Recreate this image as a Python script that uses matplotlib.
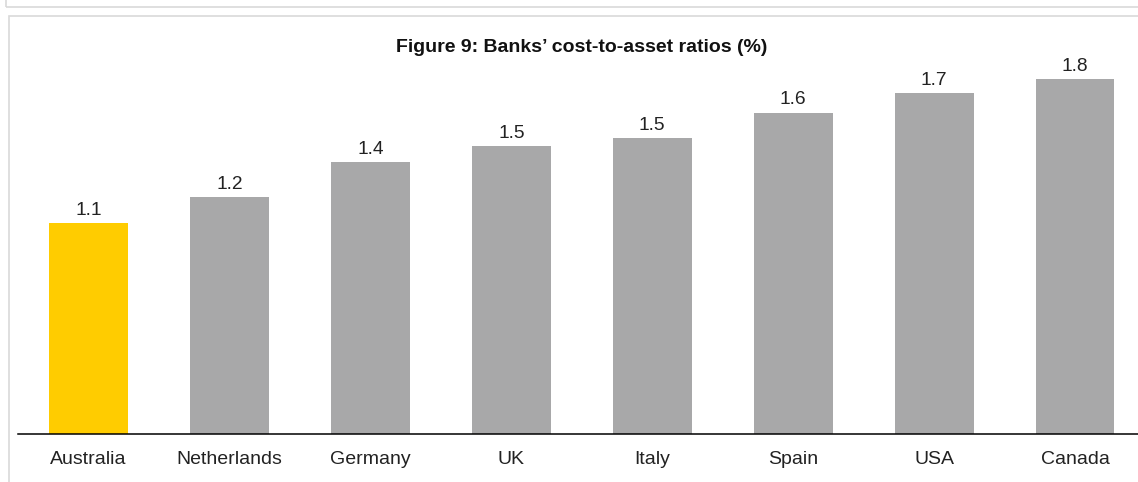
import matplotlib
matplotlib.use("Agg")
import matplotlib.pyplot as plt
from matplotlib.patches import Rectangle

# Banks' cost-to-asset ratios, per cent
countries = ["Australia", "Netherlands", "Germany", "UK", "Italy", "Spain", "USA", "Canada"]
ratios = [1.07, 1.20, 1.38, 1.46, 1.50, 1.63, 1.73, 1.80]
highlight = "Australia"

plt.rcParams.update({"font.family": ["Liberation Sans", "DejaVu Sans"], "font.size": 12})

W, H = 1138, 482
fig = plt.figure(figsize=(W / 100, H / 100), dpi=100)


def px_box(x0, y0, x1, y1):
    # pixel box (from top-left) -> figure fraction rectangle
    return Rectangle((x0 / W, 1 - y1 / H), (x1 - x0) / W, (y1 - y0) / H,
                     transform=fig.transFigure, fill=False,
                     edgecolor="#d9d9d9", linewidth=1.2)


# panel frames around the chart
fig.add_artist(px_box(6, -20, W + 20, 7))
fig.add_artist(px_box(9, 16, W + 20, H + 20))

ax = fig.add_axes([18 / W, (H - 433.7) / H, 1127.5 / W, 394 / H])

colors = ["#FFCC00" if c == highlight else "#A8A8A9" for c in countries]
x = range(len(countries))
bars = ax.bar(x, ratios, width=0.56, color=colors, zorder=2)

for b, v in zip(bars, ratios):
    ax.annotate(f"{v:.1f}", (b.get_x() + b.get_width() / 2, v),
                xytext=(0, 3), textcoords="offset points",
                ha="center", va="bottom", fontsize=13.8, color="#222222")

ax.set_xlim(-0.5, 7.5)
ax.set_ylim(0, 2.0)
ax.set_xticks(list(x))
ax.set_xticklabels(countries, fontsize=14, color="#222222")
ax.tick_params(axis="x", length=0, pad=12.5)
ax.set_yticks([])
for s in ["top", "right", "left"]:
    ax.spines[s].set_visible(False)
ax.spines["bottom"].set_color("black")
ax.spines["bottom"].set_linewidth(1.1)

fig.text(582 / W, 1 - 47 / H, "Figure 9: Banks\u2019 cost-to-asset ratios (%)",
         ha="center", va="center", fontsize=14, fontweight="bold", color="#111111")

fig.savefig("out.png", dpi=100)
